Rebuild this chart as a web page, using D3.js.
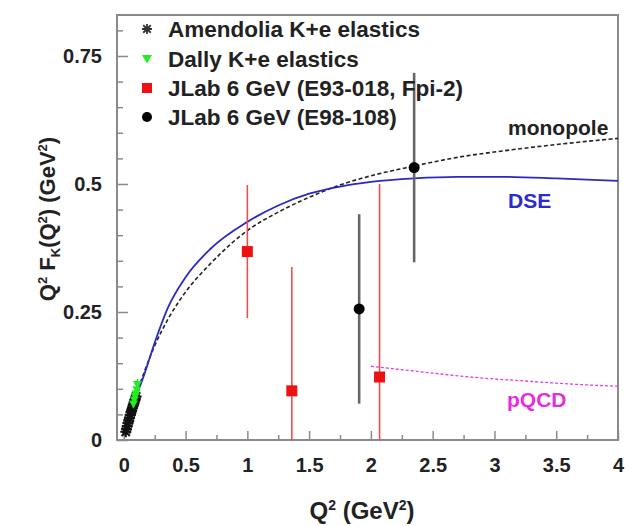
<!DOCTYPE html>
<html>
<head>
<meta charset="utf-8">
<script src="https://cdn.jsdelivr.net/npm/d3@7"></script>
<style>
  body { margin: 0; background: #fff; }
  svg { display: block; font-family: "Liberation Sans", Arial, Helvetica, sans-serif; font-weight: bold; }
</style>
</head>
<body>
<svg id="chart" width="636" height="526"></svg>
<script>
// ---------- data ----------
const amendoliaQ2  = [0.016, 0.022, 0.028, 0.034, 0.040, 0.046, 0.052, 0.058, 0.064, 0.070, 0.076, 0.082, 0.088, 0.094, 0.100];
const amendoliaVal = [0.016, 0.021, 0.027, 0.033, 0.038, 0.043, 0.049, 0.054, 0.058, 0.063, 0.068, 0.072, 0.077, 0.081, 0.085];
const amendoliaErr = [0.006, 0.006, 0.007, 0.007, 0.008, 0.008, 0.009, 0.009, 0.010, 0.010, 0.011, 0.011, 0.012, 0.012, 0.013];

const dallyQ2  = [0.078, 0.085, 0.092, 0.098, 0.104, 0.110];
const dallyVal = [0.070, 0.078, 0.085, 0.090, 0.098, 0.108];
const dallyErr = [0.008, 0.009, 0.009, 0.010, 0.010, 0.011];

const e93Q2  = [1.00, 1.36, 2.07];
const e93Val = [0.368, 0.096, 0.123];
const e93Err = [0.130, 0.242, 0.377];

const e98Q2  = [1.905, 2.35];
const e98Val = [0.256, 0.532];
const e98Err = [0.185, 0.185];

const monoQ2  = [0.10, 0.16, 0.25, 0.36, 0.50, 0.70, 1.00, 1.25, 1.50, 1.75, 2.00, 2.35, 2.70, 3.05, 3.50, 4.00];
const monoVal = [0.088, 0.129, 0.184, 0.237, 0.289, 0.344, 0.409, 0.445, 0.474, 0.498, 0.516, 0.535, 0.552, 0.564, 0.577, 0.589];

const dseQ2  = [0.10, 0.16, 0.25, 0.36, 0.50, 0.70, 1.00, 1.25, 1.50, 1.75, 2.00, 2.35, 2.70, 3.05, 3.50, 4.00];
const dseVal = [0.085, 0.124, 0.190, 0.260, 0.318, 0.373, 0.426, 0.458, 0.481, 0.495, 0.504, 0.511, 0.514, 0.514, 0.511, 0.506];

const pqcdQ2  = [2.00, 2.30, 2.60, 2.90, 3.20, 3.50, 3.80, 4.00];
const pqcdVal = [0.144, 0.136, 0.128, 0.121, 0.116, 0.111, 0.107, 0.105];

const xTickLabels = ["0", "0.5", "1", "1.5", "2", "2.5", "3", "3.5", "4"];
const yTickLabels = ["0", "0.25", "0.5", "0.75"];

const legendLabels = ["Amendolia K+e elastics", "Dally K+e elastics", "JLab 6 GeV (E93-018, Fpi-2)", "JLab 6 GeV (E98-108)"];

// ---------- layout ----------
const svg = d3.select("#chart");
const L = 117, R = 618, T = 15, B = 440;
const x = d3.scaleLinear().domain([-0.055, 4.0]).range([L, R]);
const y = d3.scaleLinear().domain([0, 0.83]).range([B, T]);

svg.append("rect").attr("width", 636).attr("height", 526).attr("fill", "#fff");

const frameColor = "#8a8a8a";

svg.append("defs").append("clipPath").attr("id", "plotclip")
  .append("rect").attr("x", L).attr("y", T).attr("width", R - L).attr("height", B - T);

// ---------- axes ----------
const xMajor = xTickLabels.map(Number);
const xMinor = d3.range(0.25, 4, 0.5);
const yMajor = yTickLabels.map(Number);
const yMinor = d3.range(0, 0.83, 0.05).filter(v => Math.abs(v / 0.25 - Math.round(v / 0.25)) > 1e-6);

function styleAxis(g) {
  g.select(".domain").remove();
  g.selectAll(".tick line").attr("stroke", frameColor).attr("stroke-width", 1.5);
  g.selectAll(".tick text").attr("fill", "#222").style("font-size", "20px").style("font-weight", "bold")
    .style("font-family", '"Liberation Sans", Arial, sans-serif');
}

svg.append("g").attr("transform", `translate(0,${B})`)
  .call(d3.axisBottom(x).tickValues(xMinor).tickSize(-5).tickFormat(""))
  .call(styleAxis);
svg.append("g").attr("transform", `translate(0,${B})`)
  .call(d3.axisBottom(x).tickValues(xMajor).tickSize(-9).tickPadding(18)
    .tickFormat((d, i) => xTickLabels[i]))
  .call(styleAxis);

svg.append("g").attr("transform", `translate(${L},0)`)
  .call(d3.axisLeft(y).tickValues(yMinor).tickSize(-6).tickFormat(""))
  .call(styleAxis);
svg.append("g").attr("transform", `translate(${L},0)`)
  .call(d3.axisLeft(y).tickValues(yMajor).tickSize(-11).tickPadding(15)
    .tickFormat((d, i) => yTickLabels[i]))
  .call(styleAxis);

svg.append("rect").attr("x", L).attr("y", T).attr("width", R - L).attr("height", B - T)
  .attr("fill", "none").attr("stroke", frameColor).attr("stroke-width", 2);

// ---------- curves ----------
const plot = svg.append("g").attr("clip-path", "url(#plotclip)");
const line = d3.line().curve(d3.curveMonotoneX);

plot.append("path")
  .attr("d", line(monoQ2.map((q, i) => [x(q), y(monoVal[i])])))
  .attr("fill", "none").attr("stroke", "#222").attr("stroke-width", 1.6).attr("stroke-dasharray", "4,2.5");

plot.append("path")
  .attr("d", line(dseQ2.map((q, i) => [x(q), y(dseVal[i])])))
  .attr("fill", "none").attr("stroke", "#2a2ac0").attr("stroke-width", 1.8);

plot.append("path")
  .attr("d", line(pqcdQ2.map((q, i) => [x(q), y(pqcdVal[i])])))
  .attr("fill", "none").attr("stroke", "#e040e0").attr("stroke-width", 1.3).attr("stroke-dasharray", "3,2");

// ---------- data points ----------
function errBars(g, qs, vs, es, color, width) {
  g.selectAll(null).data(qs).join("line")
    .attr("x1", d => x(d)).attr("x2", d => x(d))
    .attr("y1", (d, i) => y(vs[i] - es[i])).attr("y2", (d, i) => y(vs[i] + es[i]))
    .attr("stroke", color).attr("stroke-width", width);
}

const asteriskPath = s => {
  const h = s / 2, d = h * 0.75;
  return `M${-h},0H${h}M0,${-h}V${h}M${-d},${-d}L${d},${d}M${-d},${d}L${d},${-d}`;
};
const triDown = s => {
  const h = s / 2;
  return `M${-h},${-h * 0.8}L${h},${-h * 0.8}L0,${h * 0.9}Z`;
};

// Amendolia
errBars(plot, amendoliaQ2, amendoliaVal, amendoliaErr, "#111", 1.6);
plot.selectAll(null).data(amendoliaQ2).join("path")
  .attr("transform", (d, i) => `translate(${x(d)},${y(amendoliaVal[i])})`)
  .attr("d", asteriskPath(11)).attr("stroke", "#111").attr("stroke-width", 2).attr("fill", "none");

// Dally
errBars(plot, dallyQ2, dallyVal, dallyErr, "#22dd22", 1.4);
plot.selectAll(null).data(dallyQ2).join("path")
  .attr("transform", (d, i) => `translate(${x(d)},${y(dallyVal[i])})`)
  .attr("d", triDown(9)).attr("fill", "#22ee22");

// E93-018 red squares
errBars(plot, e93Q2, e93Val, e93Err, "#e85050", 1.6);
plot.selectAll(null).data(e93Q2).join("rect")
  .attr("x", d => x(d) - 5.5).attr("y", (d, i) => y(e93Val[i]) - 5.5)
  .attr("width", 11).attr("height", 11).attr("fill", "#ee1111");

// E98-108 black circles
errBars(plot, e98Q2, e98Val, e98Err, "#666", 2.6);
plot.selectAll(null).data(e98Q2).join("circle")
  .attr("cx", d => x(d)).attr("cy", (d, i) => y(e98Val[i])).attr("r", 5.5).attr("fill", "#000");

// ---------- curve labels ----------
svg.append("text").attr("x", 508).attr("y", 135).attr("fill", "#222").style("font-size", "21px").text("monopole");
svg.append("text").attr("x", 508).attr("y", 208).attr("fill", "#2a2ad0").style("font-size", "21px").text("DSE");
svg.append("text").attr("x", 507).attr("y", 407).attr("fill", "#e030e0").style("font-size", "21px").text("pQCD");

// ---------- legend ----------
const legY = [29, 59, 88, 117];
const leg = svg.append("g");
leg.append("path").attr("transform", `translate(147,${legY[0]})`).attr("d", asteriskPath(10))
  .attr("stroke", "#333").attr("stroke-width", 1.8).attr("fill", "none");
leg.append("path").attr("transform", `translate(147,${legY[1]})`).attr("d", triDown(10)).attr("fill", "#22ee22");
leg.append("rect").attr("x", 142).attr("y", legY[2] - 5).attr("width", 10).attr("height", 10).attr("fill", "#ee1111");
leg.append("circle").attr("cx", 147).attr("cy", legY[3]).attr("r", 5).attr("fill", "#000");
leg.selectAll(null).data(legendLabels).join("text")
  .attr("x", 168).attr("y", (d, i) => legY[i]).attr("dy", "0.36em")
  .attr("fill", "#222").style("font-size", "22.5px").text(d => d);

// ---------- axis titles ----------
const SUP = 9, SUB = 5;
const xt = svg.append("text").attr("x", 362).attr("y", 519).attr("text-anchor", "middle")
  .attr("fill", "#222").style("font-size", "24px");
xt.append("tspan").text("Q");
xt.append("tspan").attr("dy", -SUP).style("font-size", "14px").text("2");
xt.append("tspan").attr("dy", SUP).text(" (GeV");
xt.append("tspan").attr("dy", -SUP).style("font-size", "14px").text("2");
xt.append("tspan").attr("dy", SUP).text(")");

const yt = svg.append("text").attr("transform", "translate(55,219) rotate(-90)").attr("text-anchor", "middle")
  .attr("fill", "#222").style("font-size", "22px");
yt.append("tspan").text("Q");
yt.append("tspan").attr("dy", -8).style("font-size", "13px").text("2");
yt.append("tspan").attr("dy", 8).text(" F");
yt.append("tspan").attr("dy", SUB).style("font-size", "13px").text("K");
yt.append("tspan").attr("dy", -SUB).text("(Q");
yt.append("tspan").attr("dy", -8).style("font-size", "13px").text("2");
yt.append("tspan").attr("dy", 8).text(") (GeV");
yt.append("tspan").attr("dy", -8).style("font-size", "13px").text("2");
yt.append("tspan").attr("dy", 8).text(")");
</script>
</body>
</html>
